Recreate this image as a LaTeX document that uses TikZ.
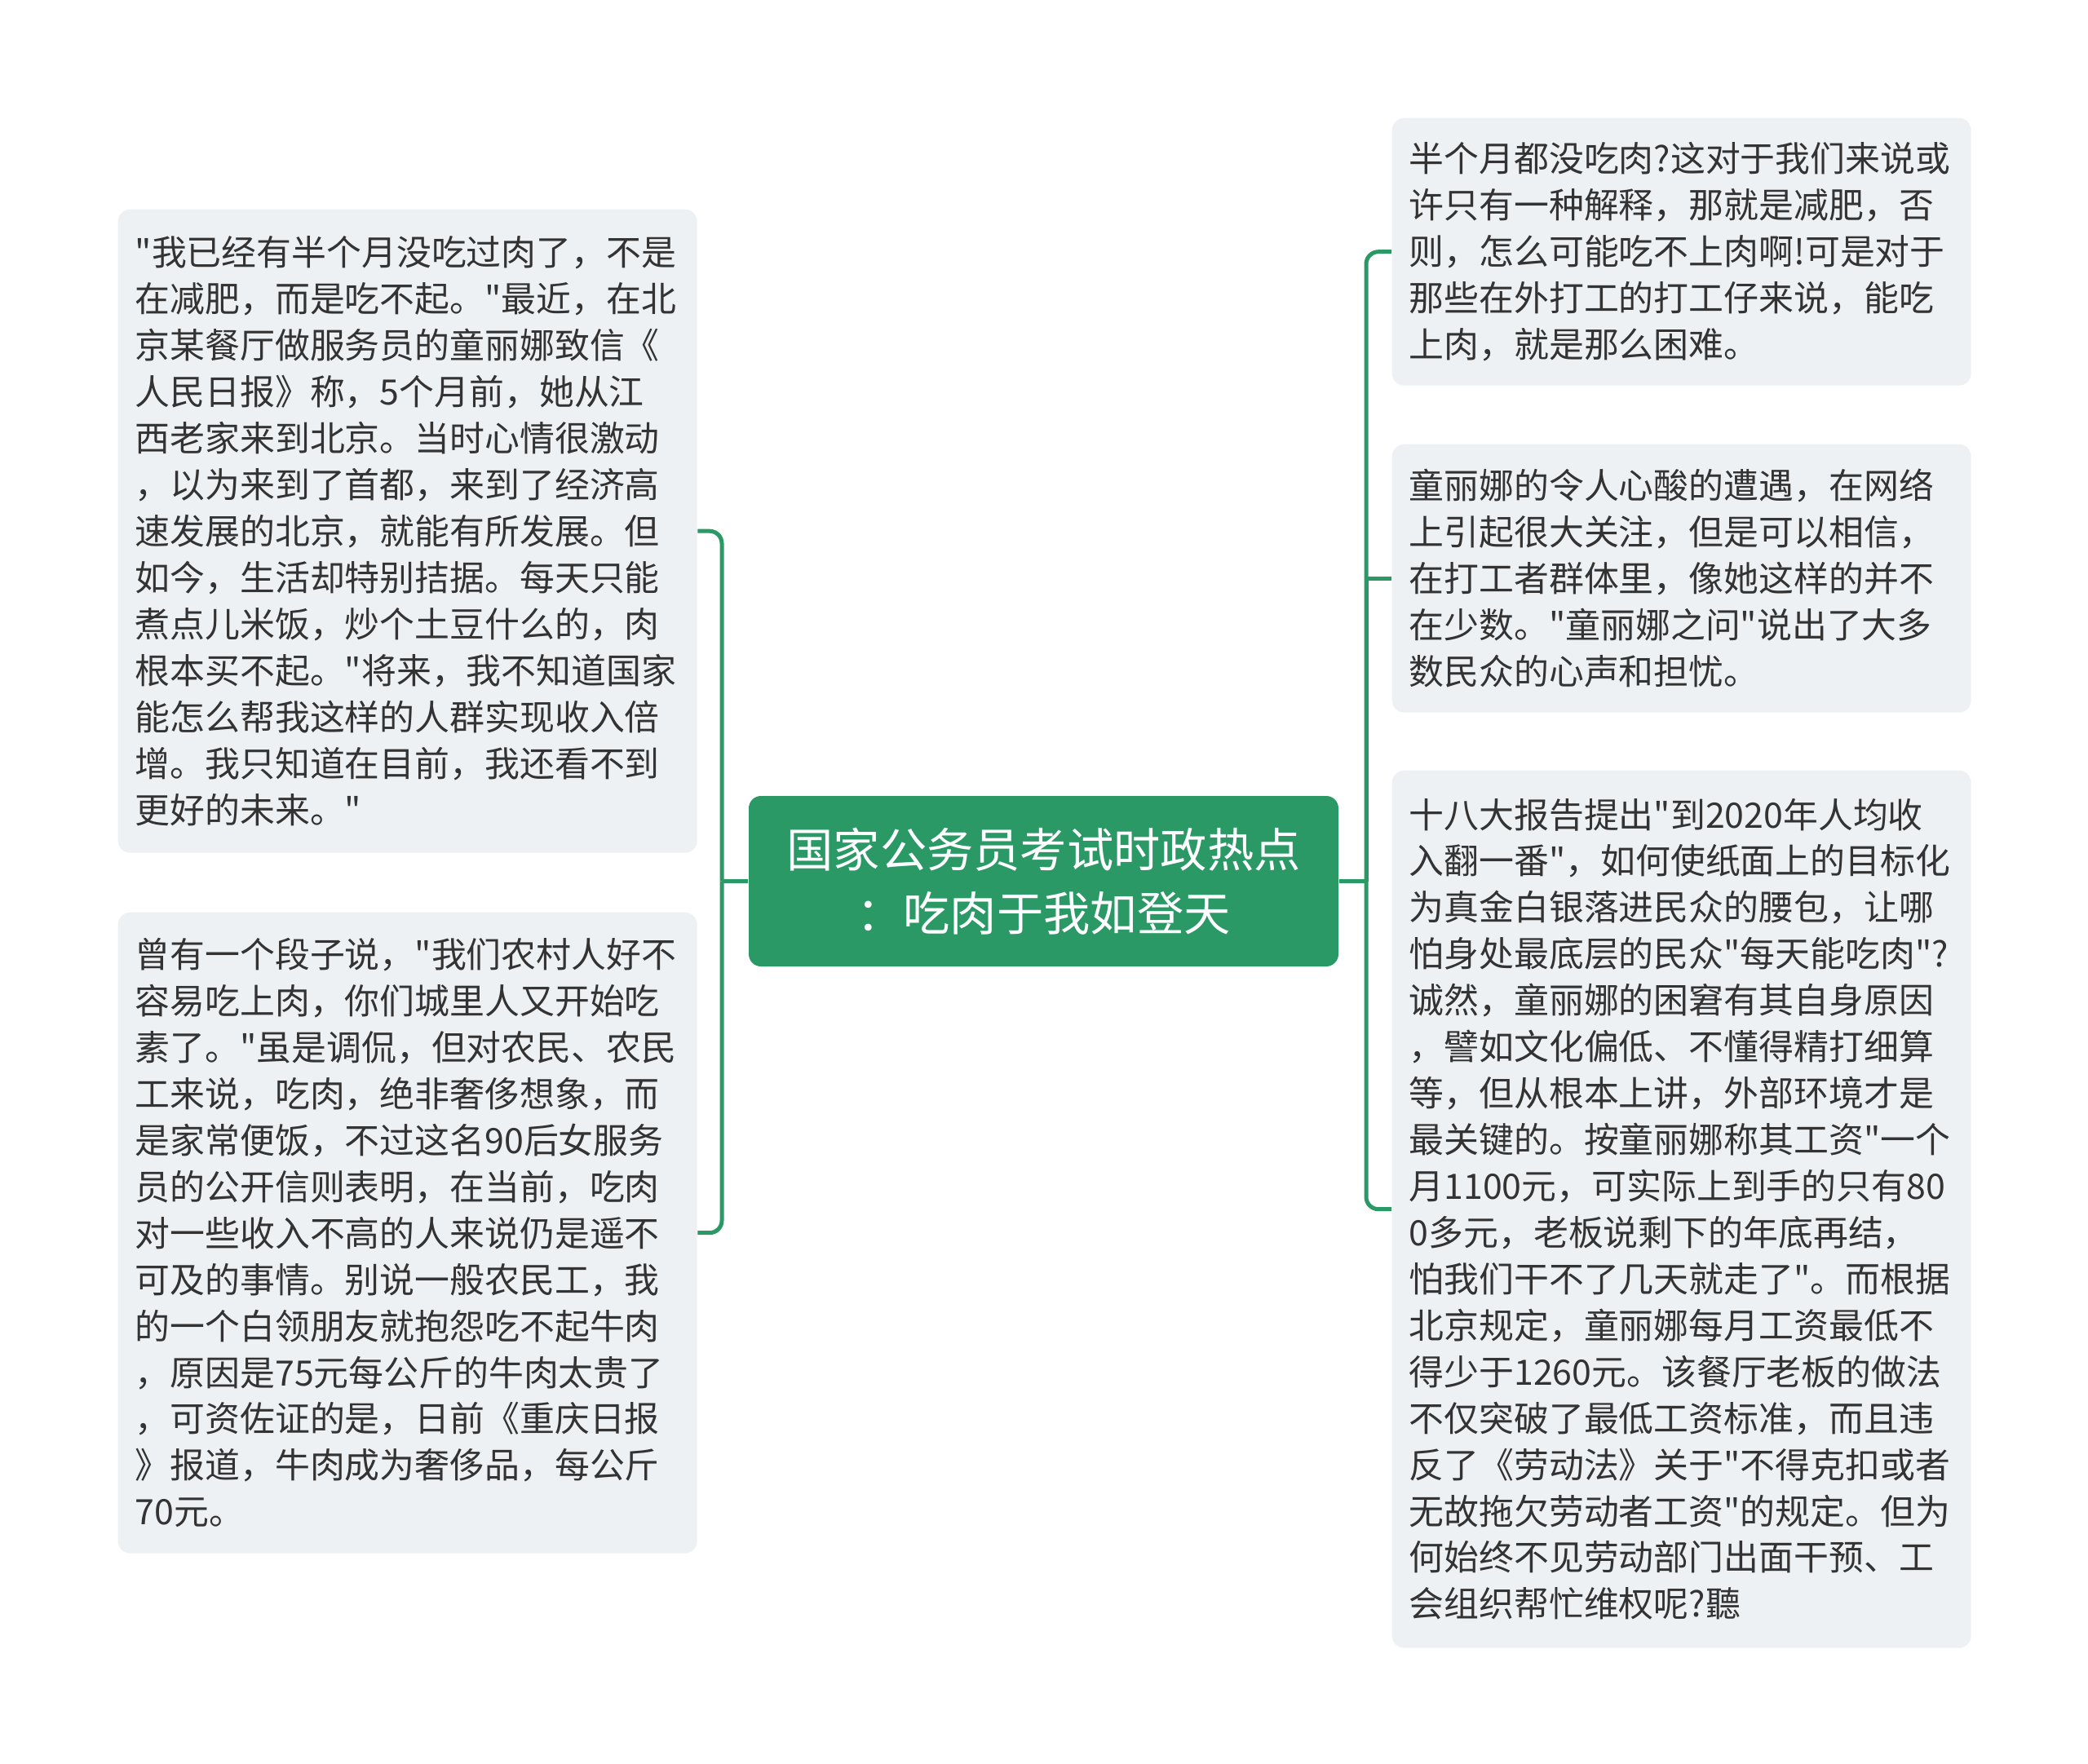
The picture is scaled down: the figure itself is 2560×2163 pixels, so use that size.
\documentclass[tikz,border=0pt]{standalone}
\usepackage{fontspec}
\setmainfont{Noto Sans CJK SC}[Ligatures=TeXOff]
\definecolor{boxbg}{HTML}{EEF1F4}
\definecolor{txt}{HTML}{333333}
\definecolor{grn}{HTML}{2A9966}
\tikzset{
  leaf/.style={rounded corners=1.5mm, fill=boxbg, draw=none, inner xsep=2.1mm, inner ysep=0pt,
    text width=66.8mm, align=left, text=txt, anchor=north west,
    font=\fontsize{12.2pt}{16.2pt}\selectfont},
  root/.style={rounded corners=1.5mm, fill=grn, draw=none, inner sep=0pt,
    minimum width=72.3mm, minimum height=20.9mm, align=center, text=white,
    font=\fontsize{16.3pt}{22.2pt}\selectfont},
  conn/.style={draw=grn, line width=0.5mm}
}
\begin{document}
\begin{tikzpicture}[x=0.1mm,y=-0.1mm]
\useasboundingbox (0,0) rectangle (2560,2163);
\fill[white] (0,0) rectangle (2560,2163);

\node[root] (c) at (1279.5,1080.5) {国家公务员考试时政热点\\：吃肉于我如登天};

\node[leaf, minimum height=78.9mm] (l1) at (144,256) {"我已经有半个月没吃过肉了，不是\\
在减肥，而是吃不起。"最近，在北\\
京某餐厅做服务员的童丽娜致信《\\
人民日报》称，5个月前，她从江\\
西老家来到北京。当时心情很激动\\
，以为来到了首都，来到了经济高\\
速发展的北京，就能有所发展。但\\
如今，生活却特别拮据。每天只能\\
煮点儿米饭，炒个土豆什么的，肉\\
根本买不起。"将来，我不知道国家\\
能怎么帮我这样的人群实现收入倍\\
增。我只知道在目前，我还看不到\\
更好的未来。"};

\node[leaf, minimum height=78.6mm] (l2) at (144,1118) {曾有一个段子说，"我们农村人好不\\
容易吃上肉，你们城里人又开始吃\\
素了。"虽是调侃，但对农民、农民\\
工来说，吃肉，绝非奢侈想象，而\\
是家常便饭，不过这名90后女服务\\
员的公开信则表明，在当前，吃肉\\
对一些收入不高的人来说仍是遥不\\
可及的事情。别说一般农民工，我\\
的一个白领朋友就抱怨吃不起牛肉\\
，原因是75元每公斤的牛肉太贵了\\
，可资佐证的是，日前《重庆日报\\
》报道，牛肉成为奢侈品，每公斤\\
70元。};

\node[leaf, minimum height=32.8mm] (r1) at (1706,144) {半个月都没吃肉?这对于我们来说或\\
许只有一种解释，那就是减肥，否\\
则，怎么可能吃不上肉啊!可是对于\\
那些在外打工的打工仔来说，能吃\\
上肉，就是那么困难。};

\node[leaf, minimum height=32.9mm] (r2) at (1706,544) {童丽娜的令人心酸的遭遇，在网络\\
上引起很大关注，但是可以相信，\\
在打工者群体里，像她这样的并不\\
在少数。"童丽娜之问"说出了大多\\
数民众的心声和担忧。};

\node[leaf, minimum height=107.6mm] (r3) at (1706,944) {十八大报告提出"到2020年人均收\\
入翻一番"，如何使纸面上的目标化\\
为真金白银落进民众的腰包，让哪\\
怕身处最底层的民众"每天能吃肉"?\\
诚然，童丽娜的困窘有其自身原因\\
，譬如文化偏低、不懂得精打细算\\
等，但从根本上讲，外部环境才是\\
最关键的。按童丽娜称其工资"一个\\
月1100元，可实际上到手的只有80\\
0多元，老板说剩下的年底再结，\\
怕我们干不了几天就走了"。而根据\\
北京规定，童丽娜每月工资最低不\\
得少于1260元。该餐厅老板的做法\\
不仅突破了最低工资标准，而且违\\
反了《劳动法》关于"不得克扣或者\\
无故拖欠劳动者工资"的规定。但为\\
何始终不见劳动部门出面干预、工\\
会组织帮忙维权呢?聽};

\coordinate (lj) at (885,1080.5);
\coordinate (rj) at (1675,1080.5);
\draw[conn] (c.west) -- (lj);
\draw[conn, rounded corners=1.5mm] (lj) |- (l1.east);
\draw[conn, rounded corners=1.5mm] (lj) |- (l2.east);
\draw[conn] (c.east) -- (rj);
\draw[conn, rounded corners=1.5mm] (rj) |- (r1.west);
\draw[conn] (rj) |- (r2.west);
\draw[conn, rounded corners=1.5mm] (rj) |- (r3.west);
\end{tikzpicture}
\end{document}
